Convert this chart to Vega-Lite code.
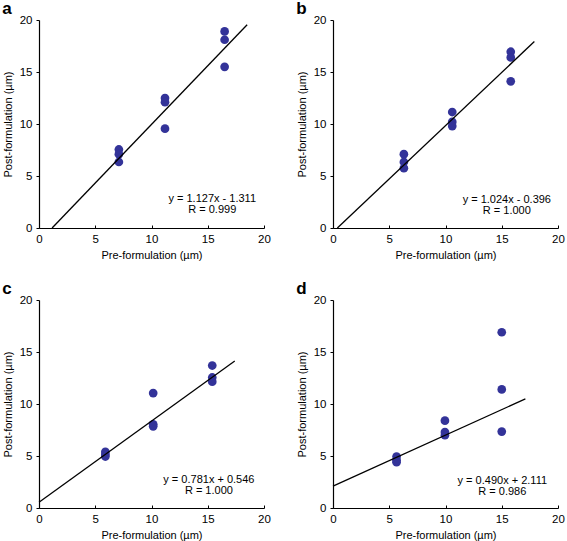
{
  "$schema": "https://vega.github.io/schema/vega-lite/v6.json",
  "background": "white",
  "padding": {"left": 2, "top": 0, "right": 2, "bottom": 2},
  "config": {
    "font": "Liberation Sans",
    "view": {"stroke": null},
    "axis": {
      "grid": false,
      "domainColor": "#000000",
      "domainWidth": 1.2,
      "tickColor": "#000000",
      "labelColor": "#000000",
      "titleColor": "#000000",
      "labelFont": "Liberation Sans",
      "titleFont": "Liberation Sans",
      "labelFontSize": 11.5,
      "titleFontSize": 11,
      "titleFontWeight": "normal",
      "values": [0, 5, 10, 15, 20]
    },
    "axisX": {"tickSize": -3, "labelPadding": 8, "titlePadding": 5, "labelFlush": false},
    "axisY": {"tickSize": 3, "labelPadding": 4, "titlePadding": 6, "labelFlush": false},
    "title": {"anchor": "start", "fontSize": 17, "fontWeight": "bold", "font": "Liberation Sans", "color": "#000000", "offset": -4},
    "concat": {"spacing": 69}
  },
  "datasets": {
    "points": [
      {"panel": "a", "pre": 7.1, "post": 7.55},
      {"panel": "a", "pre": 7.1, "post": 7.1},
      {"panel": "a", "pre": 7.1, "post": 6.35},
      {"panel": "a", "pre": 11.2, "post": 12.5},
      {"panel": "a", "pre": 11.2, "post": 12.1},
      {"panel": "a", "pre": 11.2, "post": 9.55},
      {"panel": "a", "pre": 16.5, "post": 18.9},
      {"panel": "a", "pre": 16.5, "post": 18.1},
      {"panel": "a", "pre": 16.5, "post": 15.5},
      {"panel": "b", "pre": 6.3, "post": 7.1},
      {"panel": "b", "pre": 6.3, "post": 6.35},
      {"panel": "b", "pre": 6.3, "post": 5.75},
      {"panel": "b", "pre": 10.6, "post": 11.15},
      {"panel": "b", "pre": 10.6, "post": 10.2},
      {"panel": "b", "pre": 10.6, "post": 9.8},
      {"panel": "b", "pre": 15.8, "post": 16.95},
      {"panel": "b", "pre": 15.8, "post": 16.4},
      {"panel": "b", "pre": 15.8, "post": 14.1},
      {"panel": "c", "pre": 5.9, "post": 5.4},
      {"panel": "c", "pre": 5.9, "post": 5.15},
      {"panel": "c", "pre": 5.9, "post": 4.95},
      {"panel": "c", "pre": 10.15, "post": 11.05},
      {"panel": "c", "pre": 10.15, "post": 8.05},
      {"panel": "c", "pre": 10.15, "post": 7.85},
      {"panel": "c", "pre": 15.4, "post": 13.7},
      {"panel": "c", "pre": 15.4, "post": 12.55},
      {"panel": "c", "pre": 15.4, "post": 12.15},
      {"panel": "d", "pre": 5.65, "post": 4.95},
      {"panel": "d", "pre": 5.65, "post": 4.6},
      {"panel": "d", "pre": 5.65, "post": 4.4},
      {"panel": "d", "pre": 9.95, "post": 8.4},
      {"panel": "d", "pre": 9.95, "post": 7.3},
      {"panel": "d", "pre": 9.95, "post": 7.0},
      {"panel": "d", "pre": 15.0, "post": 16.9},
      {"panel": "d", "pre": 15.0, "post": 11.4},
      {"panel": "d", "pre": 15.0, "post": 7.35}
    ],
    "fits": [
      {"panel": "a", "pre": 1.163, "post": 0},
      {"panel": "a", "pre": 18.5, "post": 19.54},
      {"panel": "b", "pre": 0.387, "post": 0},
      {"panel": "b", "pre": 17.9, "post": 17.93},
      {"panel": "c", "pre": 0, "post": 0.546},
      {"panel": "c", "pre": 17.4, "post": 14.14},
      {"panel": "d", "pre": 0, "post": 2.111},
      {"panel": "d", "pre": 17.1, "post": 10.49}
    ],
    "labels": [
      {"panel": "a", "eq": ["y = 1.127x - 1.311", "R = 0.999"]},
      {"panel": "b", "eq": ["y = 1.024x - 0.396", "R = 1.000"]},
      {"panel": "c", "eq": ["y = 0.781x + 0.546", "R = 1.000"]},
      {"panel": "d", "eq": ["y = 0.490x + 2.111", "R = 0.986"]}
    ]
  },
  "columns": 2,
  "spacing": {"row": 72, "column": 69},
  "bounds": "flush",
  "concat": [
    {
      "title": "a",
      "width": 225, "height": 208,
      "layer": [
        {"data": {"name": "points"}, "transform": [{"filter": "datum.panel === 'a'"}],
         "mark": {"type": "circle", "size": 76, "color": "#333399", "opacity": 1},
         "encoding": {
           "x": {"field": "pre", "type": "quantitative", "scale": {"domain": [0, 20], "nice": false}, "title": "Pre-formulation (µm)"},
           "y": {"field": "post", "type": "quantitative", "scale": {"domain": [0, 20], "nice": false}, "title": "Post-formulation (µm)"}}},
        {"data": {"name": "fits"}, "transform": [{"filter": "datum.panel === 'a'"}],
         "mark": {"type": "line", "color": "#000000", "strokeWidth": 1.3},
         "encoding": {"x": {"field": "pre", "type": "quantitative"}, "y": {"field": "post", "type": "quantitative"}}},
        {"data": {"name": "labels"}, "transform": [{"filter": "datum.panel === 'a'"}],
         "mark": {"type": "text", "fontSize": 11, "lineHeight": 11, "align": "center", "baseline": "middle", "color": "#000000"},
         "encoding": {"x": {"datum": 15.4}, "y": {"datum": 2.75}, "text": {"field": "eq"}}}
      ]
    },
    {
      "title": "b",
      "width": 225, "height": 208,
      "layer": [
        {"data": {"name": "points"}, "transform": [{"filter": "datum.panel === 'b'"}],
         "mark": {"type": "circle", "size": 76, "color": "#333399", "opacity": 1},
         "encoding": {
           "x": {"field": "pre", "type": "quantitative", "scale": {"domain": [0, 20], "nice": false}, "title": "Pre-formulation (µm)"},
           "y": {"field": "post", "type": "quantitative", "scale": {"domain": [0, 20], "nice": false}, "title": "Post-formulation (µm)"}}},
        {"data": {"name": "fits"}, "transform": [{"filter": "datum.panel === 'b'"}],
         "mark": {"type": "line", "color": "#000000", "strokeWidth": 1.3},
         "encoding": {"x": {"field": "pre", "type": "quantitative"}, "y": {"field": "post", "type": "quantitative"}}},
        {"data": {"name": "labels"}, "transform": [{"filter": "datum.panel === 'b'"}],
         "mark": {"type": "text", "fontSize": 11, "lineHeight": 11, "align": "center", "baseline": "middle", "color": "#000000"},
         "encoding": {"x": {"datum": 15.45}, "y": {"datum": 2.72}, "text": {"field": "eq"}}}
      ]
    },
    {
      "title": "c",
      "width": 225, "height": 208,
      "layer": [
        {"data": {"name": "points"}, "transform": [{"filter": "datum.panel === 'c'"}],
         "mark": {"type": "circle", "size": 76, "color": "#333399", "opacity": 1},
         "encoding": {
           "x": {"field": "pre", "type": "quantitative", "scale": {"domain": [0, 20], "nice": false}, "title": "Pre-formulation (µm)"},
           "y": {"field": "post", "type": "quantitative", "scale": {"domain": [0, 20], "nice": false}, "title": "Post-formulation (µm)"}}},
        {"data": {"name": "fits"}, "transform": [{"filter": "datum.panel === 'c'"}],
         "mark": {"type": "line", "color": "#000000", "strokeWidth": 1.3},
         "encoding": {"x": {"field": "pre", "type": "quantitative"}, "y": {"field": "post", "type": "quantitative"}}},
        {"data": {"name": "labels"}, "transform": [{"filter": "datum.panel === 'c'"}],
         "mark": {"type": "text", "fontSize": 11, "lineHeight": 11, "align": "center", "baseline": "middle", "color": "#000000"},
         "encoding": {"x": {"datum": 15.1}, "y": {"datum": 2.7}, "text": {"field": "eq"}}}
      ]
    },
    {
      "title": "d",
      "width": 225, "height": 208,
      "layer": [
        {"data": {"name": "points"}, "transform": [{"filter": "datum.panel === 'd'"}],
         "mark": {"type": "circle", "size": 76, "color": "#333399", "opacity": 1},
         "encoding": {
           "x": {"field": "pre", "type": "quantitative", "scale": {"domain": [0, 20], "nice": false}, "title": "Pre-formulation (µm)"},
           "y": {"field": "post", "type": "quantitative", "scale": {"domain": [0, 20], "nice": false}, "title": "Post-formulation (µm)"}}},
        {"data": {"name": "fits"}, "transform": [{"filter": "datum.panel === 'd'"}],
         "mark": {"type": "line", "color": "#000000", "strokeWidth": 1.3},
         "encoding": {"x": {"field": "pre", "type": "quantitative"}, "y": {"field": "post", "type": "quantitative"}}},
        {"data": {"name": "labels"}, "transform": [{"filter": "datum.panel === 'd'"}],
         "mark": {"type": "text", "fontSize": 11, "lineHeight": 11, "align": "center", "baseline": "middle", "color": "#000000"},
         "encoding": {"x": {"datum": 15.05}, "y": {"datum": 2.55}, "text": {"field": "eq"}}}
      ]
    }
  ]
}
